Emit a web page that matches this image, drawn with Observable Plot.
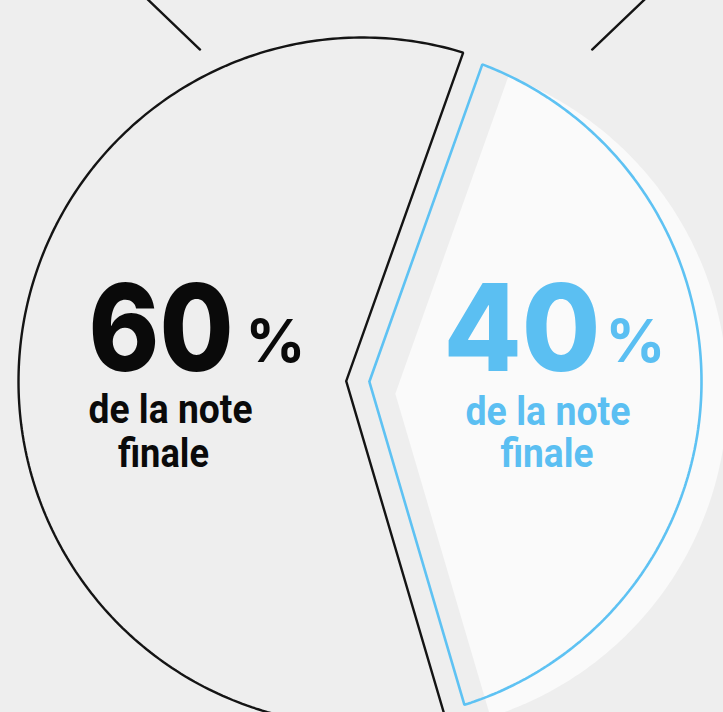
<!DOCTYPE html>
<html>
<head>
<meta charset="utf-8">
<script src="https://cdn.jsdelivr.net/npm/d3@7"></script>
<script src="https://cdn.jsdelivr.net/npm/@observablehq/plot@0.6"></script>
<style>
  html, body { margin: 0; padding: 0; background: #eeeeee; overflow: hidden; }
  #chart svg { display: block; }
</style>
</head>
<body>
<div id="chart"></div>
<script>
// ---- data ----
const categories = ["noir", "bleu"];
const shares = [60, 40];
const shareLabels = ["60", "40"];
const percentSign = "%";
const subLabelLines = ["de la note", "finale"];
// decorative leader lines at the top (in pie-radius units, centre = 0,0)
const leaderLines = [
  [{x: -0.655, y: 1.14}, {x: -0.4723, y: 0.965}],
  [{x: 0.851, y: 1.14}, {x: 0.6676, y: 0.965}]
];

// ---- layout ----
const W = 723, H = 712, R = 344, CX = 362, CY = 381;
const deg = Math.PI / 180;
const startAngle = 19.6 * deg; // start of the 40 % slice, clockwise from 12 o'clock
const total = d3.sum(shares);
const order = [1, 0];
const arcs = [];
{
  let a = startAngle;
  for (const i of order) {
    const span = shares[i] / total * 2 * Math.PI;
    arcs[i] = {a0: a, a1: a + span, mid: a + span / 2};
    a += span;
  }
}

function slicePoints(a0, a1, r, p, ox = 0, oy = 0, n = 240) {
  const h = (a1 - a0) / 2, m = (a0 + a1) / 2, d = p / Math.sin(h);
  const pts = [[ox + d * Math.sin(m), oy + d * Math.cos(m)]];
  const da = Math.asin(p / r);
  for (let k = 0; k <= n; k++) {
    const t = a0 + da + (a1 - a0 - 2 * da) * k / n;
    pts.push([ox + r * Math.sin(t), oy + r * Math.cos(t)]);
  }
  pts.push(pts[0]);
  return pts.map(([x, y]) => ({x, y}));
}

const sliceStyle = [
  {r: 1, pad: 15.5 / R, stroke: "#141414", width: 2.4, text: "#0a0a0a"},
  {r: 339 / R, pad: 6.5 / R, stroke: "#5ec2f3", width: 2.6, text: "#5bbff2"}
];

const blackPts = slicePoints(arcs[0].a0, arcs[0].a1, sliceStyle[0].r, sliceStyle[0].pad);
const bluePts = slicePoints(arcs[1].a0, arcs[1].a1, sliceStyle[1].r, sliceStyle[1].pad);
const shadowPts = slicePoints(arcs[1].a0, arcs[1].a1, sliceStyle[1].r, sliceStyle[1].pad, 26 / R, -12 / R);

// label anchors from slice mid-angles
const anchors = shares.map((v, i) => ({x: 0.55 * Math.sin(arcs[i].mid), y: 0.55 * Math.cos(arcs[i].mid)}));
const anchorPx = anchors.map(a => [CX + a.x * R, CY - a.y * R]);
// target pixel positions (centre x, baseline y) for each text piece
const targets = [
  {num: [160.5, 370], pct: [275, 361], l1: [170, 422], l2: [163, 466]},
  {num: [521.5, 370], pct: [635, 361], l1: [547.5, 424], l2: [546.5, 466]}
];
const widths = [
  {num: 145, l1: 164, l2: 91},
  {num: 157, l1: 165, l2: 93}
];

const marks = [
  Plot.line(shadowPts, {x: "x", y: "y", fill: "#fafafa", stroke: "none", curve: "linear", clip: true}),
  Plot.line(blackPts, {x: "x", y: "y", stroke: sliceStyle[0].stroke, strokeWidth: sliceStyle[0].width, strokeLinejoin: "miter", curve: "linear", clip: true}),
  Plot.line(bluePts, {x: "x", y: "y", stroke: sliceStyle[1].stroke, strokeWidth: sliceStyle[1].width, strokeLinejoin: "miter", curve: "linear", clip: true}),
  ...leaderLines.map(seg => Plot.line(seg, {x: "x", y: "y", stroke: "#141414", strokeWidth: 2.4, clip: true}))
];

const fitList = [];
shares.forEach((v, i) => {
  const a = [anchors[i]];
  const t = targets[i], ap = anchorPx[i], c = sliceStyle[i].text;
  const off = k => ({dx: t[k][0] - ap[0], dy: t[k][1] - ap[1]});
  const common = {x: "x", y: "y", textAnchor: "middle", lineAnchor: "bottom", fill: c};
  marks.push(
    Plot.text(a, {...common, ...off("num"), text: () => shareLabels[i],
      fontSize: 121, fontWeight: 800, fontFamily: "Inter, 'Noto Sans', sans-serif"}),
    Plot.text(a, {...common, ...off("pct"), text: () => percentSign,
      fontSize: 59, fontWeight: 700, fontFamily: "Inter, 'Noto Sans', sans-serif"}),
    Plot.text(a, {...common, ...off("l1"), text: () => subLabelLines[0],
      fontSize: 41, fontWeight: 700, fontFamily: "Roboto, sans-serif"}),
    Plot.text(a, {...common, ...off("l2"), text: () => subLabelLines[1],
      fontSize: 41, fontWeight: 700, fontFamily: "Roboto, sans-serif"})
  );
  fitList.push([shareLabels[i], widths[i].num, c], [subLabelLines[0], widths[i].l1, c], [subLabelLines[1], widths[i].l2, c]);
});

const chart = Plot.plot({
  width: W, height: H, margin: 0,
  style: {background: "#eeeeee", overflow: "hidden"},
  x: {domain: [-CX / R, (W - CX) / R], axis: null},
  y: {domain: [-(H - CY) / R, CY / R], axis: null},
  marks
});
document.getElementById("chart").appendChild(chart);

// condense texts to the reference widths
chart.querySelectorAll("text").forEach(el => {
  const g = el.closest("g[fill]");
  const fill = g ? g.getAttribute("fill") : null;
  for (const [txt, w, c] of fitList) {
    if (el.textContent === txt && fill === c) {
      el.setAttribute("textLength", w);
      el.setAttribute("lengthAdjust", "spacingAndGlyphs");
    }
  }
});
</script>
</body>
</html>
